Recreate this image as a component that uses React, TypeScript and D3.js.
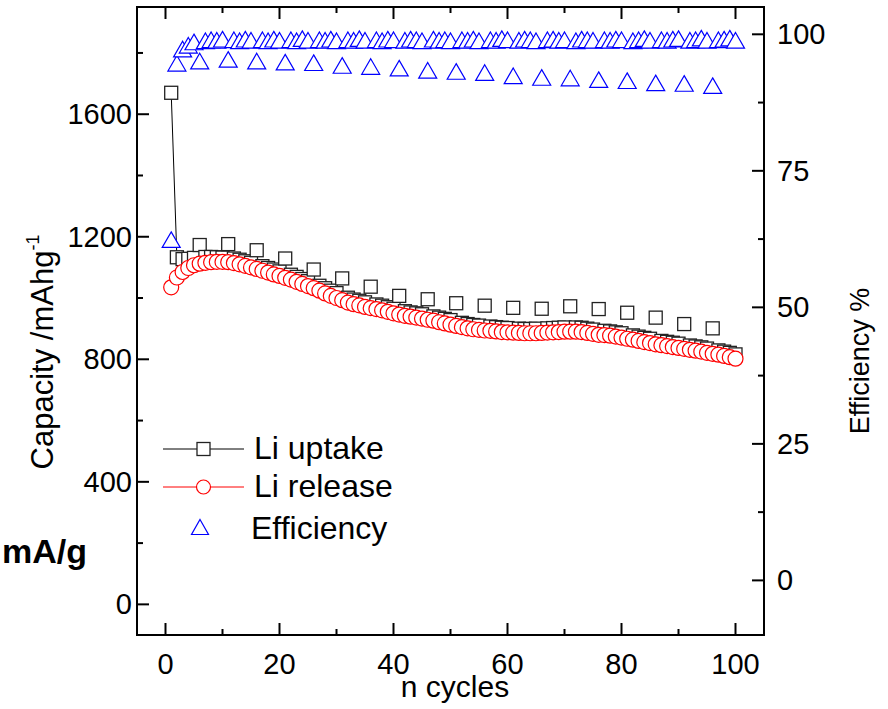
import React from "react";
import * as d3 from "d3";

// ---------- data ----------
const cycles = d3.range(1, 101);

const liUptake = [
  1670, 1133, 1127, 1128, 1131, 1173, 1134, 1134, 1133, 1132,
  1176, 1129, 1125, 1120, 1115, 1156, 1104, 1098, 1093, 1087,
  1129, 1076, 1069, 1062, 1055, 1093, 1040, 1032, 1024, 1016,
  1064, 1001, 995, 991, 986, 1037, 979, 975, 970, 965,
  1007, 957, 953, 950, 947, 996, 940, 936, 932, 928,
  983, 919, 915, 912, 910, 975, 907, 905, 903, 902,
  968, 900, 899, 899, 900, 965, 901, 902, 903, 904,
  973, 904, 903, 900, 897, 964, 893, 891, 888, 885,
  952, 878, 874, 870, 867, 936, 860, 857, 854, 851,
  915, 845, 842, 839, 835, 901, 829, 825, 821, 816,
];

const liRelease = [
  1035, 1067, 1085, 1098, 1107, 1112, 1115, 1117, 1118, 1118,
  1117, 1114, 1110, 1105, 1100, 1095, 1089, 1083, 1077, 1072,
  1066, 1060, 1053, 1046, 1039, 1032, 1024, 1015, 1007, 1000,
  993, 985, 980, 976, 971, 967, 964, 960, 955, 950,
  946, 942, 939, 936, 933, 929, 926, 921, 917, 913,
  909, 905, 901, 898, 896, 894, 893, 891, 889, 888,
  887, 886, 885, 885, 885, 886, 887, 888, 889, 890,
  890, 890, 889, 886, 883, 880, 879, 877, 874, 871,
  867, 864, 860, 856, 853, 849, 846, 843, 840, 837,
  834, 831, 828, 825, 821, 818, 815, 811, 807, 802,
];

const efficiency = [
  62.4, 94.7, 97.3, 98.0, 98.6, 95.1, 98.8, 99.0, 98.9, 99.1,
  95.4, 99.0, 98.8, 99.1, 98.9, 95.1, 99.0, 98.8, 99.1, 98.9,
  94.9, 99.0, 98.8, 99.2, 98.9, 94.8, 99.0, 98.9, 99.1, 98.8,
  94.3, 99.0, 98.9, 99.2, 98.9, 94.1, 99.0, 98.8, 99.1, 99.0,
  93.8, 98.9, 99.1, 99.0, 98.8, 93.4, 99.1, 98.9, 99.0, 98.8,
  93.2, 99.0, 98.9, 99.1, 98.8, 93.0, 99.0, 98.9, 99.2, 99.0,
  92.4, 98.9, 99.1, 99.0, 98.8, 92.1, 99.0, 99.1, 98.9, 99.0,
  92.0, 98.8, 99.1, 99.0, 98.9, 91.7, 99.0, 98.9, 99.1, 99.0,
  91.5, 98.8, 99.0, 99.2, 98.9, 91.1, 99.0, 98.9, 99.1, 99.2,
  91.0, 98.9, 99.0, 99.3, 98.9, 90.6, 99.0, 99.1, 99.3, 98.9,
];

// uptake points measured separately (not joined by the line)
const unlinkedUptakeCycles = [6, 11, 16, 21, 26, 31, 36, 41, 46, 51, 56, 61, 66, 71, 76, 81, 86, 91, 96];

const capacityTicks = [0, 400, 800, 1200, 1600];
const capacityMinorTicks = [200, 600, 1000, 1400, 1800];
const efficiencyTicks = [0, 25, 50, 75, 100];
const efficiencyMinorTicks = [12.5, 37.5, 62.5, 87.5];
const cycleTicks = [0, 20, 40, 60, 80, 100];
const cycleMinorTicks = [10, 30, 50, 70, 90];
const legendLabels = ["Li uptake", "Li release", "Efficiency"];

// ---------- layout ----------
const W = 888;
const H = 709;
const L = 137, R = 764, T = 7, B = 635;
const FONT = "'Liberation Sans', Arial, Helvetica, sans-serif";

const x = d3.scaleLinear().domain([-5, 105]).range([L, R]);
const yL = d3.scaleLinear().domain([-100, 1950]).range([B, T]);
const yR = d3.scaleLinear().domain([-10, 105]).range([B, T]);

const SQ = 13;
const CR = 7.5;
const triPath = (w: number, h: number) =>
  `M0,${-h / 2}L${w / 2},${h / 2}L${-w / 2},${h / 2}Z`;

export default function App() {
  const linked = cycles
    .map((c, i) => ({ c, v: liUptake[i] }))
    .filter((d) => !unlinkedUptakeCycles.includes(d.c));
  const line = d3
    .line<{ c: number; v: number }>()
    .x((d) => x(d.c))
    .y((d) => yL(d.v));

  const axisColor = "#000";
  const tickW = 2;

  return (
    <svg
      width={W}
      height={H}
      style={{ position: "absolute", left: 0, top: 0, background: "#fff" }}
      fontFamily={FONT}
    >
      <rect x={0} y={0} width={W} height={H} fill="#fff" />

      {/* uptake line */}
      <path d={line(linked) || ""} fill="none" stroke="#000" strokeWidth={1} />

      {/* uptake squares */}
      {cycles.map((c, i) => (
        <rect
          key={"s" + c}
          x={x(c) - SQ / 2}
          y={yL(liUptake[i]) - SQ / 2}
          width={SQ}
          height={SQ}
          fill="#fff"
          stroke="#222"
          strokeWidth={1.3}
        />
      ))}

      {/* release circles */}
      {cycles.map((c, i) => (
        <circle
          key={"c" + c}
          cx={x(c)}
          cy={yL(liRelease[i])}
          r={CR}
          fill="#fff"
          stroke="#ff0000"
          strokeWidth={1.2}
        />
      ))}

      {/* efficiency triangles */}
      {cycles.map((c, i) => (
        <path
          key={"t" + c}
          d={triPath(18, 15.6)}
          transform={`translate(${x(c)},${yR(efficiency[i])})`}
          fill="#fff"
          stroke="#0000ff"
          strokeWidth={1.2}
        />
      ))}

      {/* frame */}
      <line x1={L} x2={L} y1={T} y2={B + 1} stroke={axisColor} strokeWidth={2} />
      <line x1={R} x2={R} y1={T} y2={B + 1} stroke={axisColor} strokeWidth={2} />
      <line x1={L - 1} x2={R + 1} y1={B} y2={B} stroke={axisColor} strokeWidth={2} />
      <line x1={L - 1} x2={R + 1} y1={T} y2={T} stroke={axisColor} strokeWidth={2} />

      {/* bottom & top ticks */}
      {cycleTicks.map((t) => (
        <g key={"xt" + t}>
          <line x1={x(t)} x2={x(t)} y1={B} y2={B - 12} stroke={axisColor} strokeWidth={tickW} />
          <line x1={x(t)} x2={x(t)} y1={T} y2={T + 12} stroke={axisColor} strokeWidth={tickW} />
          <text x={x(t)} y={674} textAnchor="middle" fontSize={29} fill="#000">
            {t}
          </text>
        </g>
      ))}
      {cycleMinorTicks.map((t) => (
        <g key={"xm" + t}>
          <line x1={x(t)} x2={x(t)} y1={B} y2={B - 6} stroke={axisColor} strokeWidth={tickW} />
          <line x1={x(t)} x2={x(t)} y1={T} y2={T + 6} stroke={axisColor} strokeWidth={tickW} />
        </g>
      ))}

      {/* left ticks */}
      {capacityTicks.map((t) => (
        <g key={"yl" + t}>
          <line x1={L} x2={L + 12} y1={yL(t)} y2={yL(t)} stroke={axisColor} strokeWidth={tickW} />
          <text x={132} y={yL(t) + 10} textAnchor="end" fontSize={29} fill="#000">
            {t}
          </text>
        </g>
      ))}
      {capacityMinorTicks.map((t) => (
        <line key={"ylm" + t} x1={L} x2={L + 6} y1={yL(t)} y2={yL(t)} stroke={axisColor} strokeWidth={tickW} />
      ))}

      {/* right ticks */}
      {efficiencyTicks.map((t) => (
        <g key={"yr" + t}>
          <line x1={R} x2={R - 12} y1={yR(t)} y2={yR(t)} stroke={axisColor} strokeWidth={tickW} />
          <text x={777} y={yR(t) + 10} textAnchor="start" fontSize={29} fill="#000">
            {t}
          </text>
        </g>
      ))}
      {efficiencyMinorTicks.map((t) => (
        <line key={"yrm" + t} x1={R} x2={R - 6} y1={yR(t)} y2={yR(t)} stroke={axisColor} strokeWidth={tickW} />
      ))}

      {/* axis titles */}
      <text x={455} y={697} textAnchor="middle" fontSize={30} fill="#000">
        n cycles
      </text>
      <text
        transform="translate(53,352) rotate(-90)"
        textAnchor="middle"
        fontSize={31}
        fill="#000"
      >
        Capacity /mAhg
        <tspan dy={-14} fontSize={18}>-1</tspan>
      </text>
      <text
        transform="translate(869,361) rotate(-90)"
        textAnchor="middle"
        fontSize={27}
        fill="#000"
      >
        Efficiency %
      </text>

      <text x={2} y={563} fontSize={34} fontWeight="bold" fill="#000">
        mA/g
      </text>

      {/* legend */}
      <g>
        <line x1={163} x2={244} y1={449} y2={449} stroke="#000" strokeWidth={1} />
        <rect x={203.5 - SQ / 2} y={449 - SQ / 2} width={SQ} height={SQ} fill="#fff" stroke="#222" strokeWidth={1.3} />
        <text x={254} y={459} fontSize={32} fill="#000">{legendLabels[0]}</text>

        <line x1={163} x2={244} y1={487} y2={487} stroke="#ff0000" strokeWidth={1} />
        <circle cx={203.5} cy={487} r={7} fill="#fff" stroke="#ff0000" strokeWidth={1.2} />
        <text x={254} y={497} fontSize={32} fill="#000">{legendLabels[1]}</text>

        <path d={triPath(17, 15)} transform="translate(200,527)" fill="#fff" stroke="#0000ff" strokeWidth={1.2} />
        <text x={251} y={539} fontSize={32} fill="#000">{legendLabels[2]}</text>
      </g>
    </svg>
  );
}
